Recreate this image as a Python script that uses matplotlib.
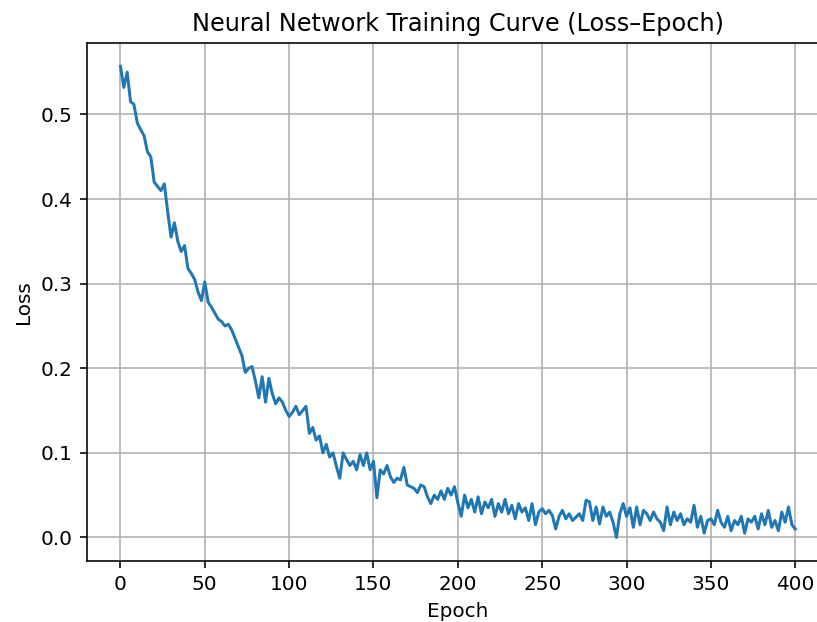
import numpy as np
import matplotlib
matplotlib.use('Agg')
import matplotlib.pyplot as plt

# loss every 2 epochs
epochs = np.arange(0, 401, 2)
loss = [
    0.557, 0.532, 0.55, 0.515, 0.512,
    0.49, 0.482, 0.475, 0.456, 0.45,
    0.42, 0.415, 0.41, 0.418, 0.385,
    0.355, 0.372, 0.35, 0.338, 0.345,
    0.318, 0.312, 0.305, 0.29, 0.28,
    0.302, 0.278, 0.272, 0.265, 0.258,
    0.255, 0.25, 0.252, 0.245, 0.235,
    0.225, 0.215, 0.195, 0.2, 0.202,
    0.185, 0.165, 0.19, 0.16, 0.188,
    0.17, 0.158, 0.165, 0.16, 0.15,
    0.143, 0.148, 0.155, 0.145, 0.15,
    0.155, 0.123, 0.13, 0.115, 0.12,
    0.1, 0.11, 0.095, 0.1, 0.084,
    0.07, 0.1, 0.092, 0.085, 0.09,
    0.08, 0.098, 0.085, 0.1, 0.08,
    0.09, 0.047, 0.08, 0.075, 0.085,
    0.072, 0.065, 0.07, 0.068, 0.083,
    0.062, 0.06, 0.058, 0.053, 0.062,
    0.06, 0.048, 0.04, 0.05, 0.045,
    0.055, 0.045, 0.058, 0.05, 0.06,
    0.041, 0.025, 0.05, 0.035, 0.045,
    0.03, 0.048, 0.028, 0.042, 0.035,
    0.045, 0.025, 0.04, 0.03, 0.045,
    0.028, 0.038, 0.022, 0.04, 0.03,
    0.035, 0.02, 0.04, 0.015, 0.03,
    0.034, 0.028, 0.032, 0.026, 0.01,
    0.025, 0.032, 0.022, 0.028, 0.02,
    0.024, 0.028, 0.02, 0.044, 0.042,
    0.02, 0.036, 0.016, 0.036, 0.025,
    0.03, 0.018, 0.0, 0.028, 0.04,
    0.025, 0.035, 0.012, 0.036, 0.015,
    0.032, 0.028, 0.02, 0.03, 0.022,
    0.018, 0.008, 0.036, 0.015, 0.03,
    0.02, 0.028, 0.015, 0.022, 0.018,
    0.038, 0.012, 0.025, 0.005, 0.02,
    0.022, 0.015, 0.032, 0.018, 0.012,
    0.025, 0.008, 0.02, 0.015, 0.025,
    0.005, 0.022, 0.018, 0.025, 0.01,
    0.028, 0.015, 0.032, 0.012, 0.02,
    0.008, 0.03, 0.018, 0.036, 0.015,
    0.01,
]

W, H = 817, 622
fig = plt.figure(figsize=(W / 144, H / 144), dpi=144)
# the right spine falls just outside the picture in the reference
ax = fig.add_axes([86.7 / W, (H - 561) / H, (829 - 86.7) / W, (561 - 42.7) / H])

ax.plot(epochs, loss)
ax.set_xlabel('Epoch')
ax.set_ylabel('Loss')
ax.set_title('Neural Network Training Curve (Loss–Epoch)')
ax.grid(True)

fig.savefig('out.png', dpi=144)
